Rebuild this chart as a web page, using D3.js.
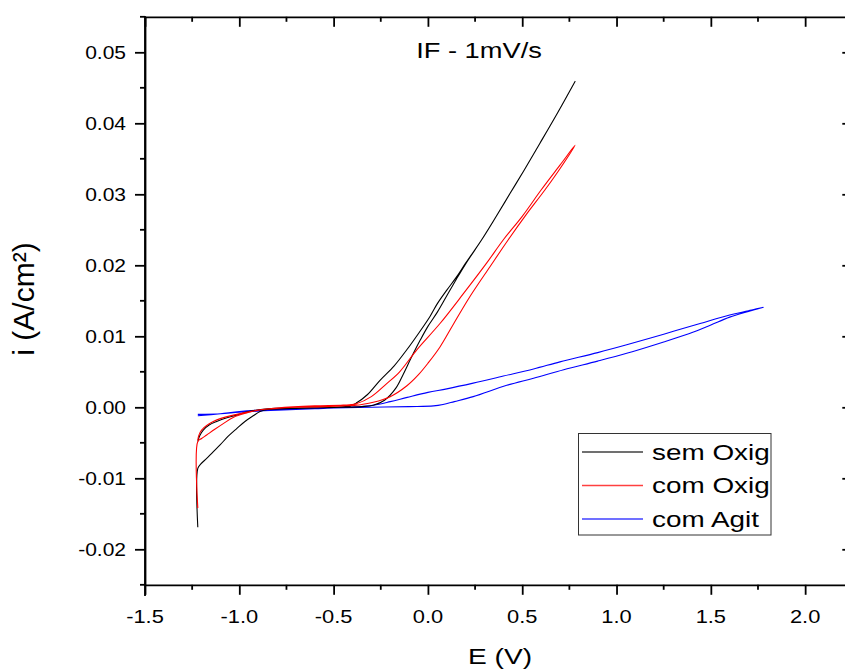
<!DOCTYPE html>
<html>
<head>
<meta charset="utf-8">
<script src="https://cdn.jsdelivr.net/npm/d3@7/dist/d3.min.js"></script>
<style>
  html, body { margin: 0; padding: 0; background: #fff; }
  svg { display: block; }
  text { font-family: "Liberation Sans", Arial, sans-serif; fill: #000; }
</style>
</head>
<body>
<svg id="chart" width="845" height="670"></svg>
<script>
// ---------------- data ----------------
const seriesNames = ["sem Oxig", "com Oxig", "com Agit"];
const seriesColors = ["#000000", "#ff0000", "#0000ff"];

const xTickValues = [-1.5, -1.0, -0.5, 0.0, 0.5, 1.0, 1.5, 2.0];
const xTickLabels = ["-1.5", "-1.0", "-0.5", "0.0", "0.5", "1.0", "1.5", "2.0"];
const yTickValues = [-0.02, -0.01, 0.00, 0.01, 0.02, 0.03, 0.04, 0.05];
const yTickLabels = ["-0.02", "-0.01", "0.00", "0.01", "0.02", "0.03", "0.04", "0.05"];

// sem Oxig (black) loop: E (V), i (A/cm2)
const semOxigE = [-1.22, -1.22, -1.205, -1.173, -1.14, -1.102, -1.06, -1.014, -0.97, -0.926, -0.89, -0.85, -0.75, -0.6, -0.45, -0.35,
  -0.29, -0.23, -0.17, -0.13, -0.09, -0.04, 0.0, 0.05, 0.10, 0.15, 0.2, 0.285, 0.36, 0.435, 0.51, 0.594, 0.69, 0.78,
  0.69, 0.594, 0.51, 0.435, 0.36, 0.285, 0.2, 0.15, 0.1, 0.05, 0.011, -0.05, -0.112, -0.18, -0.254, -0.32, -0.38, -0.413, -0.5, -0.7, -0.85,
  -0.95, -1.014, -1.07, -1.12, -1.16, -1.191, -1.21, -1.22];
const semOxigI = [-0.0169, -0.0086, -0.0080, -0.0072, -0.0063, -0.0053, -0.0041, -0.0030, -0.0020, -0.0012, -0.0006, -0.0003, -0.0002, -0.0001, 0.0, 0.0001,
  0.0003, 0.0010, 0.0027, 0.0047, 0.0069, 0.0095, 0.0114, 0.0134, 0.0157, 0.0180, 0.0202, 0.0236, 0.0268, 0.0301, 0.0334, 0.0372, 0.0416, 0.0459,
  0.0416, 0.0372, 0.0334, 0.0301, 0.0268, 0.0236, 0.0203, 0.0183, 0.0165, 0.0146, 0.0128, 0.0104, 0.0081, 0.0058, 0.0038, 0.0018, 0.0006, 0.0002, 0.0, -0.0001, -0.0002,
  -0.0006, -0.0011, -0.0015, -0.0020, -0.0025, -0.0032, -0.0040, -0.0048];

// com Oxig (red) loop
const comOxigE = [-1.22, -1.22, -1.2, -1.173, -1.13, -1.085, -1.03, -0.961, -0.9, -0.82, -0.7, -0.55, -0.45, -0.38,
  -0.35, -0.29, -0.2, -0.113, -0.05, 0.0, 0.064, 0.135, 0.223, 0.329, 0.426, 0.52, 0.62, 0.7, 0.78,
  0.7, 0.6, 0.5, 0.4, 0.311, 0.188, 0.064, -0.059, -0.15, -0.22, -0.3, -0.38, -0.449, -0.6, -0.8, -0.9,
  -1.032, -1.138, -1.2, -1.215, -1.22];
const comOxigI = [-0.0142, -0.0048, -0.0044, -0.0039, -0.0031, -0.0023, -0.0014, -0.0008, -0.0004, -0.0002, 0.0, 0.0001, 0.0002, 0.0003,
  0.0004, 0.0007, 0.0015, 0.0030, 0.0046, 0.0062, 0.0085, 0.0117, 0.0156, 0.0198, 0.0236, 0.0271, 0.0306, 0.0336, 0.0369,
  0.0341, 0.0306, 0.0269, 0.0236, 0.0203, 0.0160, 0.0118, 0.0081, 0.0050, 0.0033, 0.0015, 0.0005, 0.0003, 0.0002, -0.0001, -0.0004,
  -0.0011, -0.0020, -0.0032, -0.0040, -0.0046];

// com Agit (blue) loop
const comAgitE = [-1.22, -1.1, -1.0, -0.89, -0.7, -0.5, -0.3, -0.1, 0.03, 0.08, 0.14, 0.24, 0.418, 0.56, 0.72, 0.9, 1.054, 1.25, 1.408, 1.5, 1.6, 1.7, 1.78,
  1.7, 1.6, 1.443, 1.25, 1.054, 0.9, 0.7, 0.56, 0.4, 0.24, 0.1, 0.0, -0.11, -0.2, -0.29, -0.43, -0.6, -0.8, -1.0, -1.1, -1.22];
const comAgitI = [-0.0012, -0.0009, -0.0006, -0.0004, -0.0002, -0.0001, 0.0, 0.0001, 0.0002, 0.0004, 0.0008, 0.0015, 0.0031, 0.0041, 0.0053, 0.0065, 0.0076, 0.0092, 0.0106, 0.0116, 0.0127, 0.0135, 0.0141,
  0.0136, 0.0130, 0.0118, 0.0103, 0.0088, 0.0077, 0.0064, 0.0054, 0.0044, 0.0034, 0.0026, 0.0021, 0.0014, 0.0008, 0.0003, 0.0, -0.0002, -0.0004, -0.0007, -0.0009, -0.0010];

const chartTitle = "IF - 1mV/s";
const xTitle = "E (V)";
const yTitle = "i (A/cm²)";

// ---------------- drawing ----------------
const svg = d3.select("#chart");
const x = d3.scaleLinear().domain([-1.5, 2.25]).range([145, 852.3]);
const y = d3.scaleLinear().domain([-0.025, 0.055]).range([584.8, 16.8]);

const xMinor = d3.range(-1.5, 2.26, 0.25).filter(v => !xTickValues.some(t => Math.abs(t - v) < 1e-9));
const yMinor = d3.range(-0.025, 0.0551, 0.005).filter(v => !yTickValues.some(t => Math.abs(t - v) < 1e-9));

const axW = 1.8;
function styleAxis(g) {
  g.selectAll("path.domain").attr("stroke", "#000").attr("stroke-width", axW);
  g.selectAll(".tick line").attr("stroke", "#000").attr("stroke-width", axW);
  g.selectAll(".tick text").remove();
}

// text helper: horizontally stretched text anchored at (px,py)
function sText(parent, px, py, str, fs, sx, anchor) {
  return parent.append("g").attr("transform", `translate(${px},${py}) scale(${sx},1)`)
    .append("text").attr("x", 0).attr("y", 0).attr("font-size", fs)
    .attr("text-anchor", anchor).text(str);
}

// clip for data
svg.append("clipPath").attr("id", "clip").append("rect")
  .attr("x", 145).attr("y", 16.8).attr("width", 852.3 - 145).attr("height", 584.8 - 16.8);

const series = [
  {E: semOxigE, I: semOxigI},
  {E: comOxigE, I: comOxigI},
  {E: comAgitE, I: comAgitI}
];
const line = d3.line().x(d => x(d[0])).y(d => y(d[1])).curve(d3.curveCatmullRom.alpha(0.5));
const dataG = svg.append("g").attr("clip-path", "url(#clip)");
[2, 0, 1].forEach(k => {
  const pts = series[k].E.map((e, j) => [e, series[k].I[j]]);
  dataG.append("path").attr("d", line(pts)).attr("fill", "none")
    .style("stroke", seriesColors[k]).attr("stroke-width", 1.1).attr("stroke-linejoin", "round");
});

// bottom axis
const gB = svg.append("g").attr("transform", `translate(0,${y(-0.025)})`)
  .call(d3.axisBottom(x).tickValues(xTickValues).tickSize(10).tickSizeOuter(0));
styleAxis(gB);
gB.append("g").selectAll("line").data(xMinor).join("line")
  .attr("x1", d => x(d)).attr("x2", d => x(d)).attr("y1", 0).attr("y2", 5).attr("stroke", "#000").attr("stroke-width", axW);

// top axis (ticks inward)
const gT = svg.append("g").attr("transform", `translate(0,${y(0.055)})`)
  .call(d3.axisTop(x).tickValues(xTickValues).tickSize(-10).tickSizeOuter(0));
styleAxis(gT);
gT.append("g").selectAll("line").data(xMinor).join("line")
  .attr("x1", d => x(d)).attr("x2", d => x(d)).attr("y1", 0).attr("y2", 5).attr("stroke", "#000").attr("stroke-width", axW);

// left axis
const gL = svg.append("g").attr("transform", `translate(${x(-1.5)},0)`)
  .call(d3.axisLeft(y).tickValues(yTickValues).tickSize(10).tickSizeOuter(0));
styleAxis(gL);
gL.append("g").selectAll("line").data(yMinor).join("line")
  .attr("y1", d => y(d)).attr("y2", d => y(d)).attr("x1", 0).attr("x2", -5).attr("stroke", "#000").attr("stroke-width", axW);

// right axis (ticks inward)
const gR = svg.append("g").attr("transform", `translate(${x(2.25)},0)`)
  .call(d3.axisRight(y).tickValues(yTickValues).tickSize(-10).tickSizeOuter(0));
styleAxis(gR);
gR.append("g").selectAll("line").data(yMinor).join("line")
  .attr("y1", d => y(d)).attr("y2", d => y(d)).attr("x1", 0).attr("x2", -5).attr("stroke", "#000").attr("stroke-width", axW);

// extend left axis below frame (as in reference)
svg.append("line").attr("x1", 145).attr("x2", 145).attr("y1", 16).attr("y2", 596)
  .attr("stroke", "#000").attr("stroke-width", axW);

// tick labels
const labG = svg.append("g");
xTickValues.forEach((v, i) => sText(labG, x(v), 623, xTickLabels[i], 17.5, 1.25, "middle"));
yTickValues.forEach((v, i) => sText(labG, 126, y(v) + 6.4, yTickLabels[i], 17.5, 1.2, "end"));

// titles
sText(svg, 479, 58, chartTitle, 22, 1.24, "middle");
sText(svg, 500, 664, xTitle, 22.5, 1.25, "middle");
svg.append("text").attr("transform", "translate(34,299) rotate(-90)").attr("text-anchor", "middle")
  .attr("font-size", 30).text(yTitle);

// legend
const lg = svg.append("g");
lg.append("rect").attr("x", 578.5).attr("y", 433.5).attr("width", 192.5).attr("height", 101.5)
  .attr("fill", "#fff").attr("stroke", "#333").attr("stroke-width", 1);
const rowY = [452, 485.5, 519];
seriesNames.forEach((nm, k) => {
  lg.append("line").attr("x1", 582).attr("x2", 643).attr("y1", rowY[k]).attr("y2", rowY[k])
    .style("stroke", seriesColors[k]).style("stroke-opacity", 0.75).attr("stroke-width", 1.4);
  sText(lg, 652, rowY[k] + 7.5, nm, 22.5, 1.24, "start");
});
</script>
</body>
</html>
